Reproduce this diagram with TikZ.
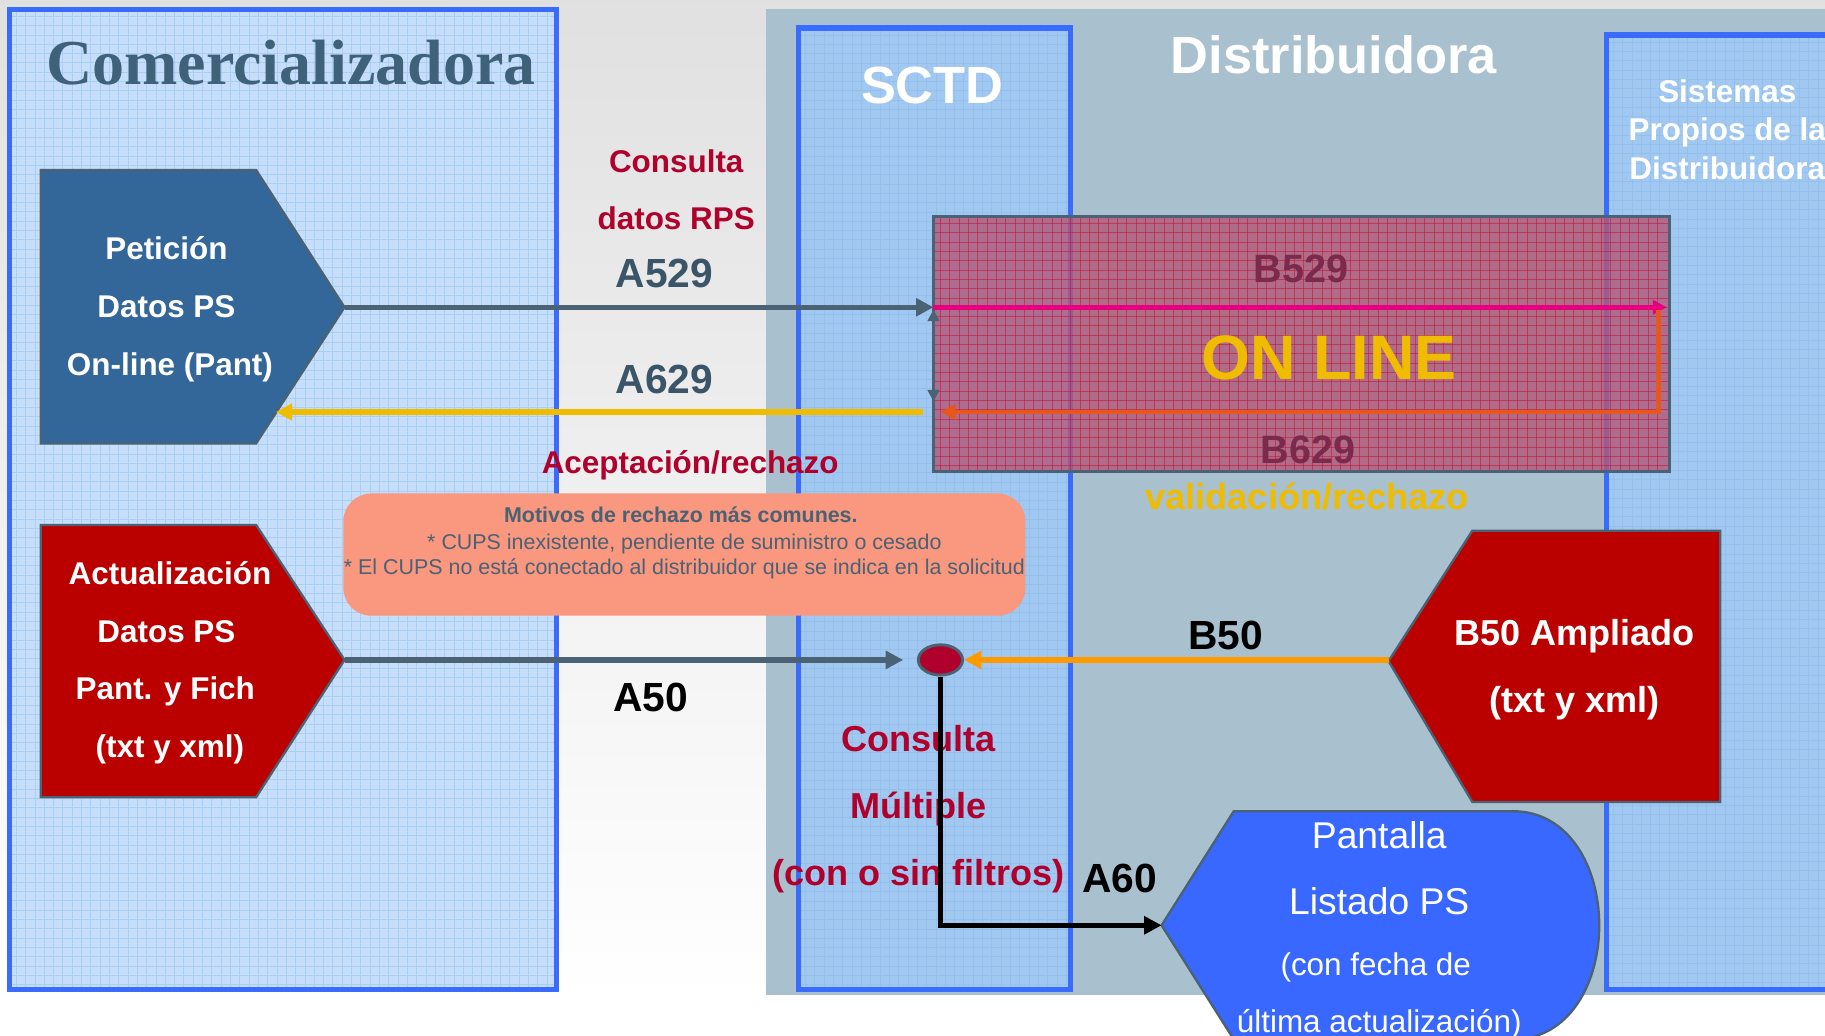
\documentclass[tikz,border=0pt]{standalone}
\usepackage{fontspec}
\setmainfont{Liberation Sans}
\newfontfamily\titleserif{Liberation Serif}
\usetikzlibrary{arrows.meta,shapes.geometric}
\definecolor{bgpanel}{HTML}{A9C0CE}
\definecolor{comfill}{HTML}{C6DEFA}
\definecolor{comgrid}{HTML}{AACFF5}
\definecolor{sctdfill}{HTML}{A0C8F0}
\definecolor{sctdgrid}{HTML}{96C0EC}
\definecolor{boxblue}{HTML}{3A6BFF}
\definecolor{titleslate}{HTML}{40617A}
\definecolor{slate}{HTML}{4A6274}
\definecolor{textslate}{HTML}{3B5568}
\definecolor{crim}{HTML}{B0002C}
\definecolor{petblue}{HTML}{336699}
\definecolor{redbox}{HTML}{BB0000}
\definecolor{pantblue}{HTML}{3868FF}
\definecolor{notefill}{HTML}{F9977F}
\definecolor{onlfill}{HTML}{B25776}
\definecolor{onlgrid}{HTML}{C8103A}
\definecolor{magentaline}{HTML}{E6007E}
\definecolor{orangered}{HTML}{E8561A}
\definecolor{yel}{HTML}{F0BC00}
\definecolor{orangeline}{HTML}{FF9900}
\definecolor{maroonb}{HTML}{7B2A4C}
\tikzset{
  bt/.style={anchor=base,inner sep=0pt,font=\bfseries\fontsize{#1}{#1}\selectfont},
  rt/.style={anchor=base,inner sep=0pt,font=\fontsize{#1}{#1}\selectfont},
  shapeline/.style={draw=slate,line width=2},
  conn/.style={line width=4.5,-{Triangle[length=15,width=15]}},
  lanebox/.style={draw=boxblue,line width=4.5},
}
\begin{document}
\begin{tikzpicture}[x=1pt,y=-1pt]
\clip (0,0) rectangle (1568,890);
% background
\shade[top color=black!12,bottom color=white] (0,0) rectangle (1568,860);
\fill[white] (0,860) rectangle (1568,890);
% Distribuidora panel
\fill[bgpanel] (658,8) rectangle (1580,855);
% Comercializadora lane
\fill[comfill] (8,8) rectangle (478,850);
\foreach \x in {14,22,...,474} \draw[comgrid,line width=0.7] (\x,10) -- (\x,848);
\foreach \y in {14,22,...,846} \draw[comgrid,line width=0.7] (10,\y) -- (476,\y);
\draw[lanebox] (8,8) rectangle (478,850);
% SCTD lane
\fill[sctdfill] (686,24) rectangle (920,850);
\foreach \x in {692,700,...,916} \draw[sctdgrid,line width=0.5] (\x,26) -- (\x,848);
\foreach \y in {30,38,...,846} \draw[sctdgrid,line width=0.5] (688,\y) -- (918,\y);
\draw[lanebox] (686,24) rectangle (920,850);
% Sistemas lane
\fill[sctdfill] (1380,30) rectangle (1590,850);
\foreach \x in {1386,1394,...,1570} \draw[sctdgrid,line width=0.5] (\x,32) -- (\x,848);
\foreach \y in {36,44,...,846} \draw[sctdgrid,line width=0.5] (1382,\y) -- (1570,\y);
\draw[lanebox] (1380,30) rectangle (1590,850);
% titles
\node[anchor=base,inner sep=0pt,text=titleslate,font=\titleserif\bfseries\fontsize{55}{55}\selectfont] (tcom) at (250,73) {Comercializadora};
\node[bt=45,text=white] (tsctd) at (801,89) {SCTD};
\node[bt=45,text=white] (tdis) at (1146,63) {Distribuidora};
\node[bt=27,text=white] (tsis1) at (1484,88) {Sistemas};
\node[bt=27,text=white] (tsis2) at (1484,121) {Propios de la};
\node[bt=27,text=white] (tsis3) at (1484,154) {Distribuidora};
% ON LINE box
\fill[onlfill,fill opacity=0.8] (802,186) rectangle (1434,405);
\foreach \x in {808,816,...,1430} \draw[onlgrid,line width=0.7,opacity=0.55] (\x,187) -- (\x,404);
\foreach \y in {192,200,...,402} \draw[onlgrid,line width=0.7,opacity=0.55] (803,\y) -- (1433,\y);
\draw[slate,line width=2.5] (802,186) rectangle (1434,405);
\node[bt=34,text=maroonb] (tb529) at (1118,243) {B529};
\node[bt=54,text=yel] (tonline) at (1142,326) {ON LINE};
\node[bt=34,text=maroonb] (tb629) at (1124,398) {B629};
\coordinate (onlIn) at (802,264);
\coordinate (onlRight) at (1432,264);
\coordinate (onlTurn) at (1425,266);
\coordinate (onlBack) at (808,354);
\coordinate (onlOut) at (793,354);
\coordinate (vTop) at (802,266);
\coordinate (vBot) at (802,345);
\draw[magentaline,line width=4.5,-{Triangle[length=12,width=12]}] (onlIn) -- (onlRight);
\draw[orangered,line width=4,-{Triangle[length=13,width=13]}] (onlTurn) |- (onlBack);
\draw[slate,line width=2,{Triangle[length=10,width=10]}-{Triangle[length=10,width=10]}] (vTop) -- (vBot);
\node[bt=31,text=yel] (tval) at (1123,438) {validación/rechazo};
% Petición shape
\draw[shapeline,fill=petblue] (35,146) -- (220,146) -- (296,264) -- (220,381) -- (35,381) -- cycle;
\coordinate (petTip) at (296,264);
\coordinate (petLow) at (237,354);
\node[bt=27,text=white] (p1) at (143,223) {Petición};
\node[bt=27,text=white] (p2) at (143,273) {Datos PS};
\node[bt=27,text=white] (p3) at (146,323) {On-line (Pant)};
% Actualización shape
\draw[shapeline,fill=redbox] (35,451) -- (220,451) -- (296,567) -- (220,685) -- (35,685) -- cycle;
\coordinate (actTip) at (296,567);
\node[bt=27,text=white] (a1) at (146,502) {Actualización};
\node[bt=27,text=white] (a2) at (143,552) {Datos PS};
\node[bt=27,text=white] (a3) at (142,601) {Pant. y Fich};
\node[bt=27,text=white] (a4) at (146,651) {(txt y xml)};
% B50 Ampliado shape
\draw[shapeline,fill=redbox] (1193,568) -- (1265,456) -- (1478,456) -- (1478,689) -- (1265,689) -- cycle;
\coordinate (bTip) at (1193,567);
\node[bt=31,text=white] (b1) at (1353,555) {B50 Ampliado};
\node[bt=31,text=white] (b2) at (1353,612) {(txt y xml)};
% Pantalla shape
\draw[shapeline,fill=pantblue] (998,795) -- (1060,697) -- (1300,697) .. controls (1348,697) and (1374,745) .. (1374,795) .. controls (1374,845) and (1348,893) .. (1300,893) -- (1060,893) -- cycle;
\coordinate (pantTip) at (998,795);
\node[rt=32,text=white] (s1) at (1185,729) {Pantalla};
\node[rt=32,text=white] (s2) at (1185,786) {Listado PS};
\node[rt=27,text=white] (s3) at (1182,838) {(con fecha de};
\node[rt=27,text=white] (s4) at (1185,887) {última actualización)};
% connectors upper
\draw[slate,conn] (petTip) -- (onlIn);
\draw[yel,line width=5,-{Triangle[length=14,width=14]}] (onlOut) -- (petLow);
\node[bt=27,text=crim] (l1) at (581,148) {Consulta};
\node[bt=27,text=crim] (l2) at (581,197) {datos RPS};
\node[bt=35,text=textslate] (l3) at (571,247) {A529};
\node[bt=35,text=textslate] (l4) at (571,338) {A629};
\node[bt=27,text=crim] (l5) at (593,407) {Aceptación/rechazo};
% note box
\fill[notefill,rounded corners=24] (295,424) rectangle (881,529);
\node[bt=18.4,text=slate] (n1) at (585,449) {Motivos de rechazo más comunes.};
\node[rt=18.4,text=slate] (n2) at (588,472) {* CUPS inexistente, pendiente de suministro o cesado};
\node[rt=18.4,text=slate] (n3) at (588,494) {* El CUPS no está conectado al distribuidor que se indica en la solicitud};
% lower flows
\node[ellipse,draw=slate,line width=2.5,fill=crim,minimum width=38,minimum height=26,inner sep=0pt] (dot) at (808,567) {};
\coordinate (aEnd) at (776,567);
\draw[slate,conn] (actTip) -- (aEnd);
\draw[orangeline,line width=4.5,-{Triangle[length=15,width=15]}] (bTip) -- (dot.east);
\node[bt=31,text=crim] (c1) at (789,646) {Consulta};
\node[bt=31,text=crim] (c2) at (789,703) {Múltiple};
\node[bt=31,text=crim] (c3) at (789,761) {(con o sin filtros)};
\draw[black,line width=4.5,-{Triangle[length=15,width=15]}] (dot.south) |- (pantTip);
\node[bt=35,text=black] (tb50) at (1053,558) {B50};
\node[bt=35,text=black] (ta50) at (559,611) {A50};
\node[bt=35,text=black] (ta60) at (962,767) {A60};
\end{tikzpicture}
\end{document}
